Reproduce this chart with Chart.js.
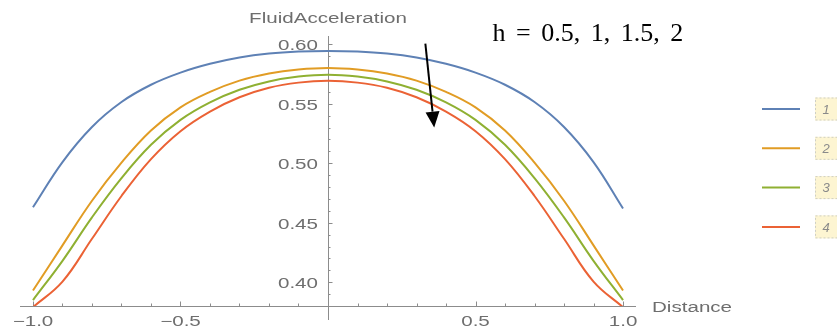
<!DOCTYPE html>
<html>
<head>
<meta charset="utf-8">
<script src="https://cdn.jsdelivr.net/npm/chart.js@4.4.1/dist/chart.umd.min.js"></script>
<style>
  html, body { margin: 0; padding: 0; background: #fff; }
  #wrap { width: 837px; height: 331px; position: relative; }
</style>
</head>
<body>
<div id="wrap"><canvas id="accelChart"></canvas></div>
<script>
// Datos
const distance = [-1.0, -0.9, -0.8, -0.7, -0.6, -0.5, -0.4, -0.3, -0.2, -0.1, 0.0,
                  0.1, 0.2, 0.3, 0.4, 0.5, 0.6, 0.7, 0.8, 0.9, 1.0];
const accelH05 = [0.463, 0.501, 0.5305, 0.5515, 0.566, 0.5762, 0.5836, 0.5889, 0.5922, 0.5939, 0.5944,
                  0.5939, 0.5922, 0.5889, 0.5836, 0.5762, 0.566, 0.5515, 0.5305, 0.501, 0.462];
const accelH1 = [0.393, 0.431, 0.4685, 0.5005, 0.5275, 0.547, 0.560, 0.5695, 0.5755, 0.5789, 0.5802,
                 0.5789, 0.5755, 0.5695, 0.560, 0.547, 0.5275, 0.5005, 0.4685, 0.431, 0.393];
const accelH15 = [0.385, 0.418, 0.4545, 0.4875, 0.5155, 0.5365, 0.5512, 0.5618, 0.5688, 0.5729, 0.5745,
                  0.5729, 0.5688, 0.5618, 0.5512, 0.5365, 0.5155, 0.4875, 0.4545, 0.418, 0.385];
const accelH2 = [0.379, 0.4005, 0.4365, 0.4725, 0.5035, 0.527, 0.5435, 0.5555, 0.5635, 0.5678, 0.5693,
                 0.5678, 0.5635, 0.5555, 0.5435, 0.527, 0.5035, 0.4725, 0.4365, 0.4005, 0.379];
const seriesLabels = ['1', '2', '3', '4'];
const xTickValues = [-1.0, -0.5, 0.5, 1.0];
const xTickLabels = ['\u22121.0', '\u22120.5', '0.5', '1.0'];
const yTickValues = [0.40, 0.45, 0.50, 0.55, 0.60];
const yTickLabels = ['0.40', '0.45', '0.50', '0.55', '0.60'];

const colors = ['#5E81B5', '#E19C24', '#8FB032', '#EB6235'];
const AXIS_GRAY = '#8c8c8c';
const LABEL_GRAY = '#6e6e6e';
const STRETCH = 1.47;

function toPoints(values) {
    return distance.map((x, i) => ({ x: x, y: values[i] }));
}

// Texto estirado horizontalmente (como la imagen original)
function wideText(ctx, text, x, y, align) {
    ctx.save();
    ctx.translate(x, y);
    ctx.scale(STRETCH, 1);
    ctx.textAlign = align;
    ctx.fillText(text, 0, 0);
    ctx.restore();
}

// Ejes estilo Mathematica
const axesPlugin = {
    id: 'mmaAxes',
    beforeDatasetsDraw(chart) {
        const { ctx, chartArea, scales } = chart;
        const xs = scales.x, ys = scales.y;
        const x0 = xs.getPixelForValue(0);
        const yBase = ys.getPixelForValue(ys.min);

        ctx.save();
        ctx.strokeStyle = AXIS_GRAY;
        ctx.lineWidth = 1;
        ctx.beginPath();
        ctx.moveTo(chartArea.left, yBase + 0.5);
        ctx.lineTo(chartArea.right, yBase + 0.5);
        ctx.moveTo(x0 + 0.5, chartArea.top);
        ctx.lineTo(x0 + 0.5, chartArea.bottom + 14);
        ctx.stroke();

        // marcas del eje x
        ctx.beginPath();
        for (let k = -10; k <= 10; k++) {
            if (k === 0) continue;
            const px = Math.round(xs.getPixelForValue(k / 10)) + 0.5;
            const len = (k % 5 === 0) ? 4.5 : 2.5;
            ctx.moveTo(px, yBase);
            ctx.lineTo(px, yBase - len);
        }
        // marcas del eje y
        for (let k = 39; k <= 60; k++) {
            const py = Math.round(ys.getPixelForValue(k / 100)) + 0.5;
            const len = (k % 5 === 0) ? 4.5 : 2.5;
            ctx.moveTo(x0, py);
            ctx.lineTo(x0 + len, py);
        }
        ctx.stroke();

        ctx.fillStyle = LABEL_GRAY;
        ctx.font = '14px "Liberation Sans", Arial, sans-serif';
        ctx.textBaseline = 'alphabetic';
        xTickValues.forEach((v, i) => {
            wideText(ctx, xTickLabels[i], xs.getPixelForValue(v), yBase + 20, 'center');
        });
        yTickValues.forEach((v, i) => {
            wideText(ctx, yTickLabels[i], x0 - 10, ys.getPixelForValue(v) + 6, 'right');
        });

        // titulos de los ejes
        wideText(ctx, 'FluidAcceleration', x0, chartArea.top - 13, 'center');
        wideText(ctx, 'Distance', chartArea.right + 16, yBase + 6, 'left');
        ctx.restore();
    },
    afterDraw(chart) {
        const { ctx, scales } = chart;
        const xs = scales.x, ys = scales.y;

        // leyenda
        ctx.save();
        chart.data.datasets.forEach((ds, i) => {
            const rowY = 109 + i * 39.3;
            ctx.strokeStyle = ds.borderColor;
            ctx.lineWidth = 2;
            ctx.beginPath();
            ctx.moveTo(762, rowY);
            ctx.lineTo(800, rowY);
            ctx.stroke();

            ctx.fillStyle = '#fdf5d2';
            ctx.fillRect(815, rowY - 11.5, 26, 23);
            ctx.setLineDash([2, 2]);
            ctx.strokeStyle = '#cfcfc4';
            ctx.lineWidth = 1;
            ctx.strokeRect(815.5, rowY - 11, 26, 22);
            ctx.setLineDash([]);

            ctx.fillStyle = '#8a8a8a';
            ctx.font = 'italic 13px "Liberation Sans", Arial, sans-serif';
            ctx.textAlign = 'center';
            ctx.textBaseline = 'middle';
            ctx.fillText(ds.label, 826, rowY + 1);
        });

        // anotacion h y flecha
        ctx.fillStyle = '#000';
        ctx.font = '26px "Liberation Serif", "DejaVu Serif", serif';
        ctx.textAlign = 'left';
        ctx.textBaseline = 'alphabetic';
        ctx.wordSpacing = '4px';
        ctx.fillText('h = 0.5, 1, 1.5, 2', xs.getPixelForValue(0.558), ys.getPixelForValue(0.6028));
        ctx.wordSpacing = '0px';

        const ax = xs.getPixelForValue(0.33), ay = ys.getPixelForValue(0.6006);
        const bx = xs.getPixelForValue(0.36), by = ys.getPixelForValue(0.530);
        const ang = Math.atan2(by - ay, bx - ax);
        const headLen = 16, headW = 7;
        const hx = bx - headLen * Math.cos(ang), hy = by - headLen * Math.sin(ang);
        ctx.strokeStyle = '#000';
        ctx.lineWidth = 2;
        ctx.beginPath();
        ctx.moveTo(ax, ay);
        ctx.lineTo(hx, hy);
        ctx.stroke();
        ctx.beginPath();
        ctx.moveTo(bx, by);
        ctx.lineTo(hx + headW * Math.sin(ang), hy - headW * Math.cos(ang));
        ctx.lineTo(hx - headW * Math.sin(ang), hy + headW * Math.cos(ang));
        ctx.closePath();
        ctx.fill();
        ctx.restore();
    }
};

const seriesValues = [accelH05, accelH1, accelH15, accelH2];

new Chart(document.getElementById('accelChart'), {
    type: 'line',
    data: {
        datasets: seriesValues.map((vals, i) => ({
            label: seriesLabels[i],
            data: toPoints(vals),
            borderColor: colors[i],
            backgroundColor: colors[i],
            borderWidth: 2,
            pointRadius: 0,
            tension: 0.4,
            fill: false
        }))
    },
    options: {
        responsive: true,
        maintainAspectRatio: false,
        animation: false,
        layout: {
            padding: { left: 20, right: 201, top: 36, bottom: 25 }
        },
        plugins: {
            legend: { display: false },
            tooltip: { enabled: false }
        },
        scales: {
            x: { type: 'linear', min: -1.044, max: 1.044, display: false },
            y: { type: 'linear', min: 0.38, max: 0.607, display: false }
        }
    },
    plugins: [axesPlugin]
});
</script>
</body>
</html>
